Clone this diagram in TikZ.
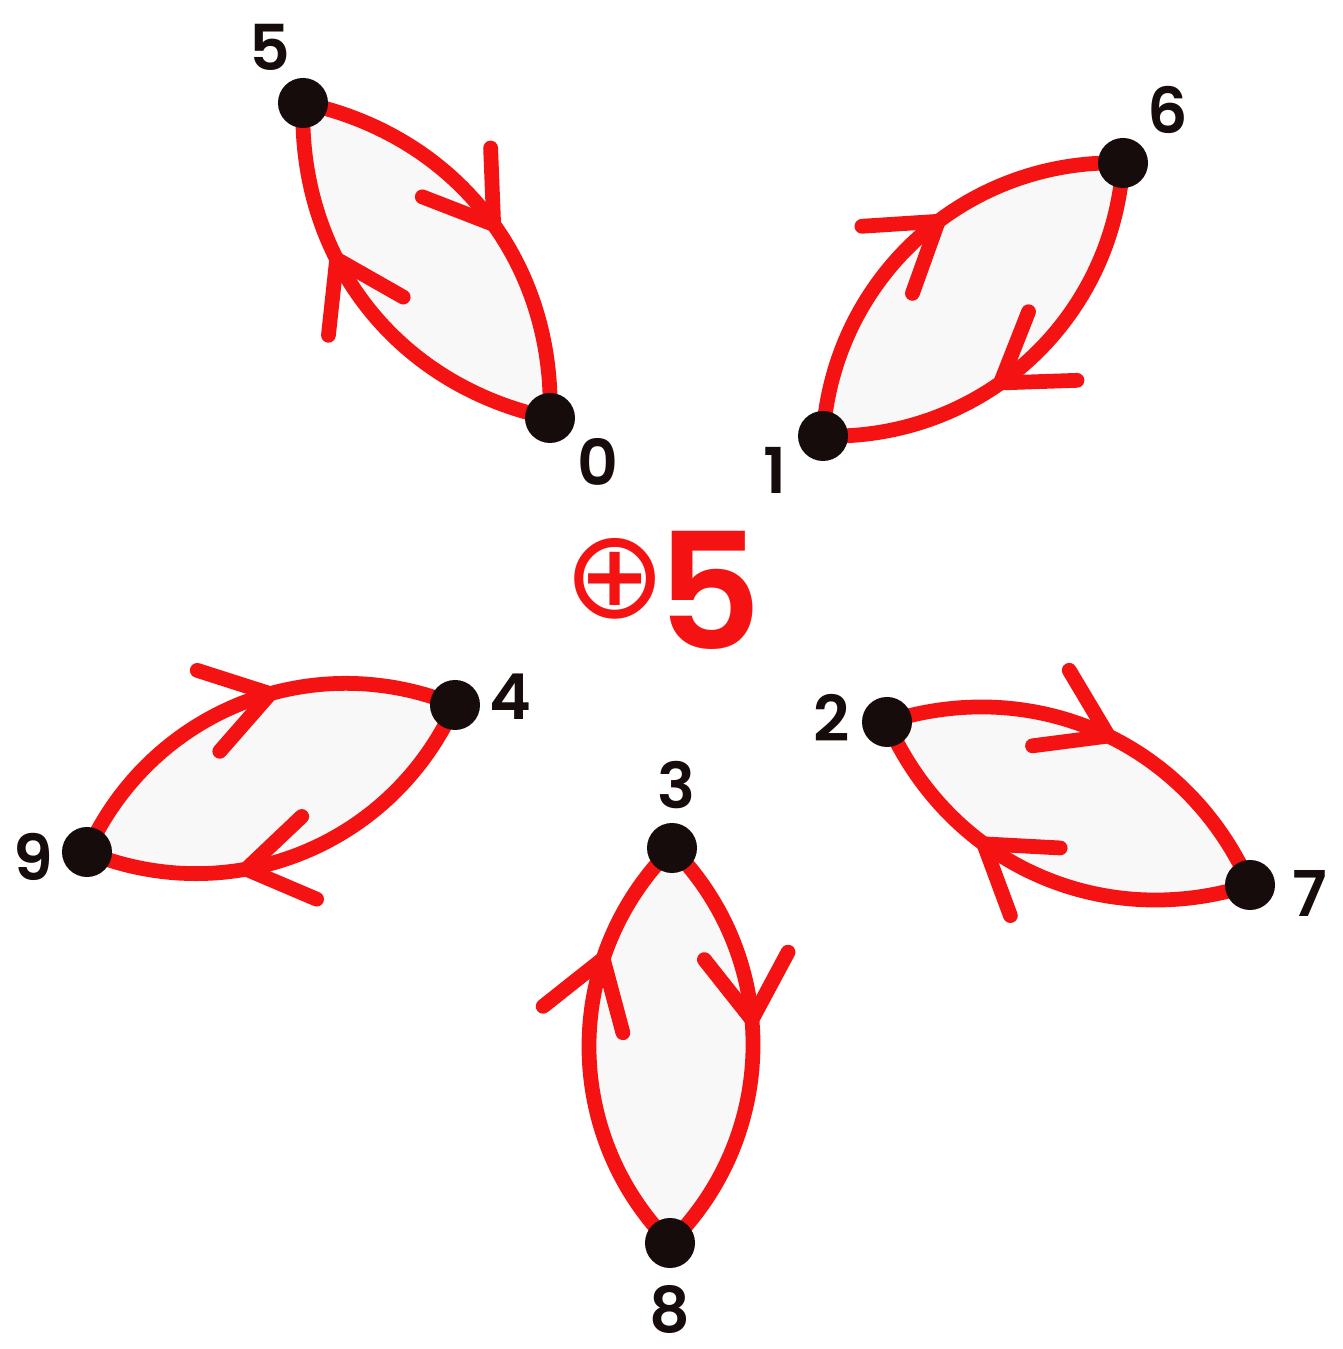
\documentclass[tikz,border=0pt]{standalone}
\usepackage{fontspec}
\setmainfont{Poppins}
\newfontfamily\popsemi{Poppins SemiBold}
\newfontfamily\symfont{DejaVu Sans}
\usetikzlibrary{decorations.markings,backgrounds}
\definecolor{inkred}{RGB}{245,18,18}
\definecolor{inkblack}{RGB}{22,12,12}
\definecolor{lensgray}{RGB}{248,248,248}
\begin{document}
\begin{tikzpicture}[x=0.01cm,y=0.01cm,
  dot/.style={circle,fill=inkblack,inner sep=0pt,minimum size=0.5cm},
  lbl/.style={font=\popsemi\fontsize{18}{20}\selectfont,text=inkblack,inner sep=0pt},
  linkline/.style={draw=inkred,line width=4.2pt,line cap=round},
  lens/.style={fill=lensgray},
  chev/.style={draw=inkred,line width=4.2pt,line cap=round,line join=round},
  arrowat/.style={postaction={decorate,decoration={markings,mark=at position #1 with {\draw[chev] (-64,42) -- (0,0) -- (-64,-42);}}}}]
\useasboundingbox (0,0) rectangle (1343,1349);
% dots
\node[dot] (n5) at (303,1246) {};
\node[dot] (n0) at (550,931) {};
\node[dot] (n6) at (1123,1186) {};
\node[dot] (n1) at (823,913) {};
\node[dot] (n4) at (455,644) {};
\node[dot] (n9) at (87,497) {};
\node[dot] (n2) at (887,627) {};
\node[dot] (n7) at (1250,464) {};
\node[dot] (n3) at (672,501) {};
\node[dot] (n8) at (670,106) {};
% labels
\node[lbl] (l5) at (270,1302) {5};
\node[lbl] (l6) at (1168,1239) {6};
\node[lbl] (l0) at (598,887) {0};
\node[lbl] (l1) at (775,879) {1};
\node[lbl] (l4) at (510,652) {4};
\node[lbl] (l9) at (33,492) {9};
\node[lbl] (l2) at (832,631) {2};
\node[lbl] (l7) at (1310,456) {7};
\node[lbl] (l3) at (676,564) {3};
\node[lbl] (l8) at (670,40) {8};
% centre
\node[text=inkred,inner sep=0pt,font=\symfont\fontsize{35}{37}\selectfont] (plus) at (615,770) {⊕};
\node[text=inkred,inner sep=0pt,font=\popsemi\fontsize{46}{48}\selectfont] (five) at (710,759) {5};
\begin{pgfonlayer}{background}
\fill[lens] (n5.center) to[bend left=40] (n0.center) to[bend left=40] (n5.center);
\fill[lens] (n1.center) to[bend left=44] (n6.center) to[bend left=44] (n1.center);
\fill[lens] (n9.center) to[bend left=44] (n4.center) to[bend left=44] (n9.center);
\fill[lens] (n2.center) to[bend left=42] (n7.center) to[bend left=42] (n2.center);
\fill[lens] (n3.center) to[bend left=45] (n8.center) to[bend left=45] (n3.center);
\draw[linkline,arrowat=0.53] (n5.center) to[bend left=40] (n0.center);
\draw[linkline,arrowat=0.63] (n0.center) to[bend left=40] (n5.center);
\draw[linkline,arrowat=0.56] (n1.center) to[bend left=44] (n6.center);
\draw[linkline,arrowat=0.58] (n6.center) to[bend left=44] (n1.center);
\draw[linkline,arrowat=0.57] (n9.center) to[bend left=44] (n4.center);
\draw[linkline,arrowat=0.63] (n4.center) to[bend left=44] (n9.center);
\draw[linkline,arrowat=0.52] (n2.center) to[bend left=42] (n7.center);
\draw[linkline,arrowat=0.64] (n7.center) to[bend left=42] (n2.center);
\draw[linkline,arrowat=0.44] (n3.center) to[bend left=45] (n8.center);
\draw[linkline,arrowat=0.70] (n8.center) to[bend left=45] (n3.center);
\end{pgfonlayer}
\end{tikzpicture}
\end{document}
